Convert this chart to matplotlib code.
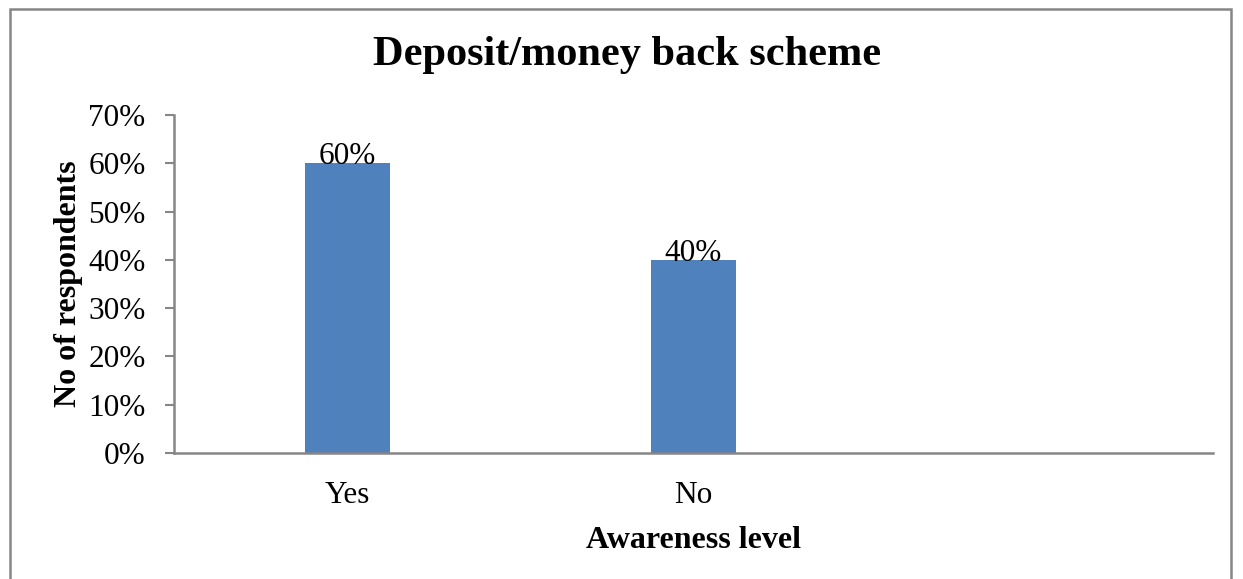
import matplotlib.pyplot as plt
from matplotlib.patches import Rectangle

# awareness of the deposit/money back scheme
categories = ['Yes', 'No', '']
shares = [60, 40, None]
yticks = [0, 10, 20, 30, 40, 50, 60, 70]

plt.rcParams['font.family'] = ['Liberation Serif', 'DejaVu Serif']

fig = plt.figure(figsize=(12.43, 5.79), dpi=100)
ax = fig.add_axes([174 / 1243, 1 - 453 / 579, (1213 - 174) / 1243, (453 - 115) / 579])

grey = '#868686'
blue = '#4F81BD'

xs = range(len(categories))
for x, v in zip(xs, shares):
    if v is None:
        continue
    ax.bar(x, v, width=0.245, color=blue)
    ax.text(x, v + 1.4, '{}%'.format(v), ha='center', va='center', fontsize=22.5)

ax.set_xlim(-0.5, len(categories) - 0.5)
ax.set_ylim(0, 70)
ax.set_yticks(yticks)
ax.set_yticklabels(['{}%'.format(t) for t in yticks], fontsize=22.5)
ax.set_xticks([0, 1])
ax.set_xticklabels(categories[:2], fontsize=22.5)
ax.tick_params(axis='x', length=0, pad=20)
ax.tick_params(axis='y', length=6.5, width=1.5, color=grey, pad=14)

for side in ['top', 'right']:
    ax.spines[side].set_visible(False)
for side in ['left', 'bottom']:
    ax.spines[side].set_color(grey)
    ax.spines[side].set_linewidth(1.8)

ax.set_xlabel('Awareness level', fontsize=23, fontweight='bold', labelpad=12)
ax.set_ylabel('No of respondents', fontsize=23, fontweight='bold', labelpad=4)
fig.text(627 / 1243, 1 - 55 / 579, 'Deposit/money back scheme',
         ha='center', va='center', fontsize=30.5, fontweight='bold')

# outer chart frame
fig.patches.append(Rectangle((10 / 1243, -0.05), (1231 - 10) / 1243, 1.05 - 9 / 579,
                             transform=fig.transFigure, fill=False,
                             edgecolor=grey, linewidth=1.8))

fig.savefig('out.png', dpi=100)
